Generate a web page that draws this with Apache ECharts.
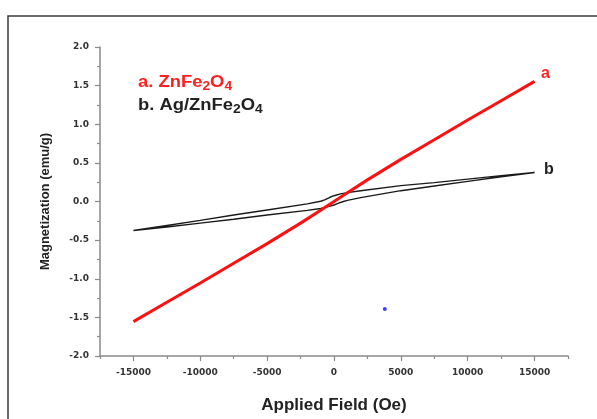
<!DOCTYPE html>
<html>
<head>
<meta charset="utf-8">
<script src="https://cdn.jsdelivr.net/npm/echarts@6/dist/echarts.min.js"></script>
<style>html,body{margin:0;padding:0;background:#fff}#c{width:597px;height:419px}</style>
</head>
<body>
<div id="c"></div>
<script>
// Field values (Oe) and magnetization (emu/g)
const redField = [-15000,-12500,-10000,-7500,-5000,-2500,-1000,0,1000,2500,5000,7500,10000,12500,15000];
const redMag   = [-1.555,-1.305,-1.055,-0.80,-0.545,-0.28,-0.112,0.0,0.112,0.28,0.545,0.80,1.055,1.305,1.555];

const blkUpField = [15000,12500,10000,7500,5000,2000,1000,500,0,-300,-700,-1000,-2000,-5000,-7500,-10000,-12500,-15000];
const blkUpMag   = [0.375,0.335,0.29,0.245,0.205,0.14,0.115,0.098,0.075,0.055,0.02,0.003,-0.03,-0.11,-0.175,-0.245,-0.31,-0.375];
const blkLoField = [-15000,-12500,-10000,-7500,-5000,-2000,-1000,-500,0,300,700,1000,2000,5000,7500,10000,12500,15000];
const blkLoMag   = [-0.375,-0.33,-0.28,-0.23,-0.175,-0.115,-0.09,-0.07,-0.045,-0.025,0.0,0.015,0.05,0.14,0.2,0.26,0.32,0.375];

const strayPoint = [3800, -1.39];

const xMajorTicks = [-15000,-10000,-5000,0,5000,10000,15000];
const xMinorTicks = [-17500,-12500,-7500,-2500,2500,7500,12500,17500];

const redData = redField.map((h,i)=>[h, redMag[i]]);
const blkData = blkLoField.map((h,i)=>[h, blkLoMag[i]]).concat(blkUpField.map((h,i)=>[h, blkUpMag[i]]));

const axisCol = '#8a8a8a';
const lblFont = {fontFamily:'DejaVu Sans', fontWeight:'bold', fontSize:9, color:'#333'};

const chart = echarts.init(document.getElementById('c'));
chart.setOption({
  animation:false,
  backgroundColor:'#fff',
  grid:{left:100, top:47, right:29, bottom:62, containLabel:false},
  xAxis:[{
    type:'value', min:-17500, max:17500,
    axisLine:{show:true, onZero:false, lineStyle:{color:axisCol, width:1.5}},
    axisTick:{show:true, length:5, customValues:xMajorTicks, lineStyle:{color:axisCol, width:1.2}},
    axisLabel:Object.assign({margin:12, customValues:xMajorTicks, formatter:v=>String(v)}, lblFont),
    splitLine:{show:false},
    name:'Applied Field (Oe)', nameLocation:'middle', nameGap:41,
    nameTextStyle:{fontFamily:'Liberation Sans', fontWeight:'bold', fontSize:17, color:'#222'}
  },{
    type:'value', min:-17500, max:17500, position:'bottom',
    axisLine:{show:false, onZero:false},
    axisTick:{show:true, length:3, customValues:xMinorTicks, lineStyle:{color:axisCol, width:1.2}},
    axisLabel:{show:false},
    splitLine:{show:false}
  }],
  yAxis:{
    type:'value', min:-2, max:2, interval:0.5,
    axisLine:{show:true, onZero:false, lineStyle:{color:axisCol, width:1.5}},
    axisTick:{show:true, length:5, lineStyle:{color:axisCol, width:1.2}},
    minorTick:{show:true, splitNumber:2, length:3, lineStyle:{color:axisCol, width:1.2}},
    axisLabel:Object.assign({margin:11, formatter:v=>v.toFixed(1)}, lblFont),
    splitLine:{show:false},
    name:'Magnetization (emu/g)', nameLocation:'middle', nameGap:48,
    nameTextStyle:{fontFamily:'Liberation Sans', fontWeight:'bold', fontSize:13, color:'#222'}
  },
  series:[
    {type:'line', data:blkData, showSymbol:false, smooth:false,
     lineStyle:{color:'#1a1a1a', width:1.4}, z:2},
    {type:'line', data:redData, showSymbol:false, smooth:false,
     lineStyle:{color:'#ff1010', width:3}, z:3},
    {type:'scatter', data:[strayPoint], symbolSize:4, itemStyle:{color:'#1010ff'}, z:4}
  ],
  graphic:[
    {type:'rect', shape:{x:8, y:16, width:640, height:440}, style:{fill:'none', stroke:'#3a3a3a', lineWidth:1.5}, silent:true},
    {type:'text', x:138, y:73, scaleX:1.15, style:{
      text:'{m|a. ZnFe}{s|2}{m|O}{s|4}',
      rich:{
        m:{fontFamily:'Liberation Sans', fontWeight:'bold', fontSize:16, lineHeight:20, fill:'#ff2020', verticalAlign:'middle'},
        s:{fontFamily:'Liberation Sans', fontWeight:'bold', fontSize:12, lineHeight:10, fill:'#ff2020', verticalAlign:'bottom'}
      }}},
    {type:'text', x:138, y:96, scaleX:1.15, style:{
      text:'{m|b. Ag/ZnFe}{s|2}{m|O}{s|4}',
      rich:{
        m:{fontFamily:'Liberation Sans', fontWeight:'bold', fontSize:16, lineHeight:20, fill:'#222', verticalAlign:'middle'},
        s:{fontFamily:'Liberation Sans', fontWeight:'bold', fontSize:12, lineHeight:10, fill:'#222', verticalAlign:'bottom'}
      }}},
    {type:'text', left:541, top:66, style:{text:'a', fontFamily:'Liberation Sans', fontWeight:'bold', fontSize:16, fill:'#ff2020'}},
    {type:'text', left:544, top:162, style:{text:'b', fontFamily:'Liberation Sans', fontWeight:'bold', fontSize:16, fill:'#222'}}
  ]
});
</script>
</body>
</html>
